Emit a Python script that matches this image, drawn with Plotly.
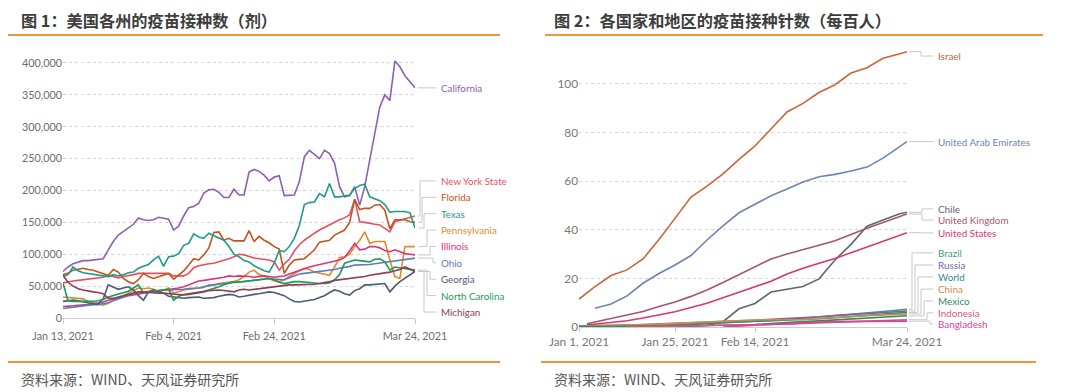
import plotly.graph_objects as go
import pandas as pd

W, H = 1080, 392
PAGE_OFFSET = 8  # browser body margin shifts the figure by this many pixels

# ---------------- Figure 1: US states, daily doses ----------------
us_dates = pd.date_range("2021-01-13", "2021-03-24").strftime("%Y-%m-%d").tolist()
us_ticks = ["2021-01-13", "2021-02-04", "2021-02-24", "2021-03-24"]
us_tick_text = ["Jan 13, 2021", "Feb 4, 2021", "Feb 24, 2021", "Mar 24, 2021"]
us_yticks = [0, 50000, 100000, 150000, 200000, 250000, 300000, 350000, 400000]

# values in thousands of doses
california_k = [73,80,85,88,90,90,91,92,93,107,120,130,136,141,147,157,154,153,154,158,
                156,155,138,144,160,173,175,180,196,201,202,197,189,189,202,193,193,229,233,230,
                224,215,221,223,192,193,193,214,253,263,256,250,263,258,243,206,190,192,206,177,
                206,248,295,331,350,341,403,394,380,370,361]
new_york_k = [55,57,58,59,60,61,62,62,64,67,65,63,65,66,68,70,70,70,70,70,
              71,70,66,66,66,70,79,82,84,85,86,88,90,93,96,100,99,96,94,93,
              92,91,88,75,85,92,105,115,122,128,133,138,142,146,151,154,157,162,186,151,
              150,148,147,146,140,135,151,153,156,158,160]
florida_k = [68,70,75,77,78,76,75,72,70,67,76,72,62,57,54,60,70,65,62,65,
             68,70,61,67,74,83,93,91,99,110,134,135,122,125,121,121,121,137,120,128,
             122,118,112,108,70,83,91,92,93,100,107,119,121,122,130,134,138,150,186,170,
             172,172,177,178,169,140,154,154,154,151,150]
texas_k = [65,68,80,74,71,70,69,68,67,65,68,66,68,71,72,78,81,84,91,97,
           81,96,97,101,114,117,132,127,125,133,129,125,122,112,100,96,90,88,82,78,
           74,72,86,106,104,112,125,145,178,181,182,195,190,211,190,190,191,193,203,208,
           210,190,187,184,178,166,167,167,167,165,141]
pennsylvania_k = [33,32,31,31,30,26,24,21,20,23,28,31,35,39,43,47,46,47,45,41,
                  44,47,39,42,44,45,46,46,48,52,52,54,55,55,57,60,65,72,75,68,
                  66,62,58,57,60,65,70,74,78,76,72,70,68,67,80,95,96,100,112,122,
                  135,117,120,120,120,91,65,62,112,112,112]
illinois_k = [18,18,19,20,20,21,22,23,25,28,30,31,33,35,36,38,39,40,41,42,
              43,44,45,47,49,52,56,58,59,60,61,62,64,66,65,66,66,65,64,65,
              66,65,64,65,66,69,72,75,78,80,82,84,86,88,90,91,95,105,117,107,
              108,112,112,110,106,104,107,104,101,100,99]
ohio_k = [15,16,17,19,20,20,21,21,22,24,27,30,33,35,38,40,41,42,43,43,
          44,44,44,45,45,46,46,47,49,51,52,53,54,55,56,57,58,59,60,61,
          62,62,61,60,60,63,66,69,70,71,72,73,74,74,76,78,79,81,83,83,
          84,84,85,86,87,88,89,90,91,92,94]
georgia_k = [26,27,28,27,25,23,22,22,30,52,48,45,47,49,44,35,28,41,44,42,
             39,34,33,32,31,32,33,33,31,31,32,34,35,37,36,33,34,36,37,38,
             39,41,40,38,35,30,26,25,26,27,29,32,35,40,44,42,38,36,43,46,
             52,52,53,54,54,41,50,57,62,67,73]
north_carolina_k = [55,27,26,26,25,25,26,27,29,33,35,38,40,42,47,52,39,41,42,43,
                    44,45,28,34,37,38,39,41,42,44,46,49,52,55,57,56,57,58,59,60,
                    61,62,60,56,54,56,57,57,56,55,54,54,54,55,60,68,86,88,91,90,
                    89,88,92,93,88,75,80,79,78,76,75]
michigan_k = [67,56,50,46,44,42,41,40,38,31,31,33,35,38,40,41,41,40,40,39,
              39,38,38,37,36,37,38,39,41,43,44,44,43,42,41,44,45,44,45,46,
              47,48,49,50,52,52,52,52,52,52,53,54,55,57,59,60,61,62,62,63,
              65,67,68,69,70,72,74,76,80,77,73]

us_names = ["California", "New York State", "Florida", "Texas", "Pennsylvania",
            "Illinois", "Ohio", "Georgia", "North Carolina", "Michigan"]
us_values = [california_k, new_york_k, florida_k, texas_k, pennsylvania_k,
             illinois_k, ohio_k, georgia_k, north_carolina_k, michigan_k]
us_colors = ["#8C5FB4", "#E5505E", "#C4541F", "#1E9A8A", "#E08A2C",
             "#E0327C", "#5B7DBF", "#4B5A76", "#1F9A55", "#8E3D55"]
# label slots (data units of the y axis)
us_label_y = [361000, 215000, 189300, 163600, 137900, 112200, 86500, 60800, 35100, 9400]

# ---------------- Figure 2: doses per hundred ----------------
world_dates = ["2021-01-01", "2021-01-03", "2021-01-05", "2021-01-09", "2021-01-13",
               "2021-01-17", "2021-01-21", "2021-01-25", "2021-01-29", "2021-02-02",
               "2021-02-06", "2021-02-10", "2021-02-14", "2021-02-18", "2021-02-22",
               "2021-02-26", "2021-03-02", "2021-03-06", "2021-03-10", "2021-03-14",
               "2021-03-18", "2021-03-22", "2021-03-24"]
world_ticks = ["2021-01-01", "2021-01-25", "2021-02-14", "2021-03-24"]
world_tick_text = ["Jan 1, 2021", "Jan 25, 2021", "Feb 14, 2021", "Mar 24, 2021"]
world_yticks = [0, 20, 40, 60, 80, 100]

israel = [11.5,14.0,16.6,21.2,23.5,28.0,36.0,44.7,53.5,58.0,63.0,69.0,74.5,81.5,88.5,92.0,96.5,99.7,104.5,106.7,110.6,112.3,113.3]
uae = [None,None,7.7,9.5,12.8,18.0,22.0,25.5,29.4,35.8,41.6,47.0,50.5,54.0,56.8,59.7,61.8,62.8,64.2,65.8,69.5,73.8,76.3]
chile = [0.1,0.1,0.1,0.1,0.1,0.1,0.2,0.2,0.3,0.6,2.2,7.5,9.7,14.4,15.7,16.7,19.8,27.6,34.0,41.5,44.0,46.5,47.2]
uk = [None,1.3,2.0,3.4,4.9,6.4,8.4,10.3,12.6,15.2,18.3,21.5,24.8,28.0,30.0,31.7,33.6,35.5,38.2,40.6,43.0,45.3,46.5]
usa = [None,0.8,1.1,1.8,2.6,3.7,5.0,6.3,8.0,9.8,12.0,14.3,16.8,18.8,21.8,24.2,26.2,28.2,30.6,33.0,35.4,37.8,38.8]
brazil = [None,None,None,None,None,0.01,0.3,0.6,0.9,1.5,1.8,2.2,2.5,2.7,3.1,3.6,4.1,4.6,5.2,5.8,6.4,7.0,7.3]
russia = [0.5,0.5,0.6,0.7,0.8,1.0,1.2,1.4,1.6,1.9,2.2,2.5,2.8,3.1,3.4,3.8,4.2,4.7,5.1,5.5,5.9,6.3,6.6]
world = [0.15,0.18,0.2,0.3,0.45,0.6,0.75,0.95,1.2,1.4,1.6,1.9,2.1,2.4,2.7,3.0,3.4,3.8,4.3,4.8,5.2,5.7,6.0]
china = [0.3,0.35,0.45,0.65,0.8,0.9,1.1,1.5,1.8,2.0,2.3,2.8,2.9,3.0,3.0,3.1,3.6,3.8,4.2,4.6,5.0,5.2,5.4]
mexico = [0.05,0.08,0.1,0.2,0.3,0.4,0.5,0.55,0.6,0.7,0.75,0.8,1.0,1.5,1.9,2.2,2.5,2.9,3.4,3.8,4.1,4.4,4.6]
indonesia = [None,None,None,None,0.01,0.1,0.2,0.3,0.4,0.5,0.6,0.8,0.9,1.0,1.2,1.5,1.7,2.0,2.3,2.6,2.8,2.9,3.0]
bangladesh = [None,None,None,None,None,None,None,None,None,None,0.01,0.2,0.7,1.1,1.5,1.8,2.0,2.2,2.3,2.4,2.4,2.4,2.4]

w_names = ["Israel", "United Arab Emirates", "Chile", "United Kingdom", "United States",
           "Brazil", "Russia", "World", "China", "Mexico", "Indonesia", "Bangladesh"]
w_values = [israel, uae, chile, uk, usa, brazil, russia, world, china, mexico, indonesia, bangladesh]
w_colors = ["#C8653A", "#6C84B5", "#5F6577", "#A3566B", "#D9356F", "#3E9C80",
            "#7B64A6", "#2E8C8A", "#D68A45", "#2F8E5C", "#E2537F", "#D2449A"]
w_label_y = [111.5, 76.3, 48.6, 44.0, 38.7, 30.5, 25.5, 20.6, 15.6, 10.7, 5.8, 1.2]

# ---------------- layout geometry (screen pixels) ----------------
def px(x):
    return (x - PAGE_OFFSET) / W

def py(y):
    return 1 - (y - PAGE_OFFSET) / H

L_X0, L_X1, L_Y0, L_YTOP = 63, 415, 318, 56.6
R_X0, R_X1, R_Y0, R_YTOP = 579, 907, 327, 45.1

fig = go.Figure()

for name, vals, col in zip(us_names, us_values, us_colors):
    fig.add_trace(go.Scatter(x=us_dates, y=[v * 1000 for v in vals], mode="lines", name=name,
                             line=dict(color=col, width=1.6), xaxis="x", yaxis="y",
                             showlegend=False, hoverinfo="skip"))

for name, vals, col in zip(w_names, w_values, w_colors):
    fig.add_trace(go.Scatter(x=world_dates, y=vals, mode="lines", name=name,
                             line=dict(color=col, width=1.6), xaxis="x2", yaxis="y2",
                             showlegend=False, hoverinfo="skip"))

tick_font_l = dict(family="Lato", size=10.8, color="#6b6b6b")
tick_font_r = dict(family="Lato", size=11.8, color="#777777")

fig.update_layout(
    width=W, height=H, autosize=False,
    margin=dict(l=0, r=0, t=0, b=0, autoexpand=False),
    paper_bgcolor="white", plot_bgcolor="white",
    xaxis=dict(domain=[px(L_X0), px(L_X1)], type="date", range=["2021-01-13", "2021-03-24"],
               tickvals=us_ticks, ticktext=us_tick_text, ticks="outside", ticklen=5,
               tickcolor="#cccccc", showline=True, linecolor="#cccccc", showgrid=False,
               zeroline=False, tickfont=tick_font_l, anchor="y", fixedrange=True,
               automargin=False, ticklabelstandoff=3),
    yaxis=dict(domain=[py(L_Y0), py(L_YTOP)], range=[0, 410000], tickvals=us_yticks,
               ticktext=[f"{v:,}" for v in us_yticks], showgrid=True, gridcolor="#d5d5d5",
               griddash="dot", zeroline=False, showline=False, ticks="",
               tickfont=tick_font_l, anchor="x", fixedrange=True, automargin=False),
    xaxis2=dict(domain=[px(R_X0), px(R_X1)], type="date", range=["2021-01-01", "2021-03-24"],
                tickvals=world_ticks, ticktext=world_tick_text, ticks="outside", ticklen=4,
                tickcolor="#cccccc", showline=True, linecolor="#cccccc", showgrid=False,
                zeroline=False, tickfont=tick_font_r, anchor="y2", fixedrange=True,
                automargin=False),
    yaxis2=dict(domain=[py(R_Y0), py(R_YTOP)], range=[0, 116], tickvals=world_yticks,
                showgrid=True, gridcolor="#d5d5d5", griddash="dot", zeroline=False,
                showline=False, ticks="", tickfont=tick_font_r, anchor="x2", fixedrange=True,
                automargin=False),
)

shapes = []
annotations = []

# orange rules
ORANGE = "#F2933F"
for x0, x1, y in [(8, 500, 35), (545, 1043, 35), (8, 500, 362), (541, 1036, 362)]:
    shapes.append(dict(type="line", xref="paper", yref="paper", x0=px(x0), x1=px(x1),
                       y0=py(y), y1=py(y), line=dict(color=ORANGE, width=2.2)))

# titles and sources
title_font = dict(family="Noto Sans CJK SC", size=16.2, color="#3d3d3d")
src_font = dict(family="Noto Sans CJK SC", size=14, color="#555555")
annotations += [
    dict(text="<b>图 1：美国各州的疫苗接种数（剂）</b>", x=px(20), y=py(19.6), xref="paper", yref="paper",
         xanchor="left", yanchor="middle", showarrow=False, font=title_font, borderpad=0),
    dict(text="<b>图 2：各国家和地区的疫苗接种针数（每百人）</b>", x=px(553), y=py(19.6), xref="paper",
         yref="paper", xanchor="left", yanchor="middle", showarrow=False, font=title_font,
         borderpad=0),
    dict(text="资料来源：WIND、天风证券研究所", x=px(19), y=py(379), xref="paper", yref="paper",
         xanchor="left", yanchor="middle", showarrow=False, font=src_font),
    dict(text="资料来源：WIND、天风证券研究所", x=px(552), y=py(379), xref="paper", yref="paper",
         xanchor="left", yanchor="middle", showarrow=False, font=src_font),
]

CONN = "#c8c8c8"
# left chart labels + connectors
left_vx = [428, 420, 422, 424, 427, 430, 433, 430, 427, 424]
for i, (name, vals, col) in enumerate(zip(us_names, us_values, us_colors)):
    yend = vals[-1] * 1000
    ylab = us_label_y[i]
    shapes.append(dict(type="path", xref="paper", yref="y",
                       path=f"M {px(418)},{yend} H {px(left_vx[i])} V {ylab} H {px(436)}",
                       line=dict(color=CONN, width=1)))
    annotations.append(dict(text=name, x=px(438.5), y=ylab, xref="paper", yref="y",
                            xanchor="left", yanchor="middle", showarrow=False,
                            font=dict(family="Lato", size=9.8, color=col)))

# right chart labels + connectors
right_vx = [921, 921, 922, 922, 921, 912, 915, 918, 921, 924, 927, 930]
for i, (name, vals, col) in enumerate(zip(w_names, w_values, w_colors)):
    yend = vals[-1]
    ylab = w_label_y[i]
    shapes.append(dict(type="path", xref="paper", yref="y2",
                       path=f"M {px(909)},{yend} H {px(right_vx[i])} V {ylab} H {px(933)}",
                       line=dict(color=CONN, width=1)))
    annotations.append(dict(text=name, x=px(936), y=ylab, xref="paper", yref="y2",
                            xanchor="left", yanchor="middle", showarrow=False,
                            font=dict(family="Lato", size=9.9, color=col)))

fig.update_layout(shapes=shapes, annotations=annotations)

fig.write_html("out.html")
